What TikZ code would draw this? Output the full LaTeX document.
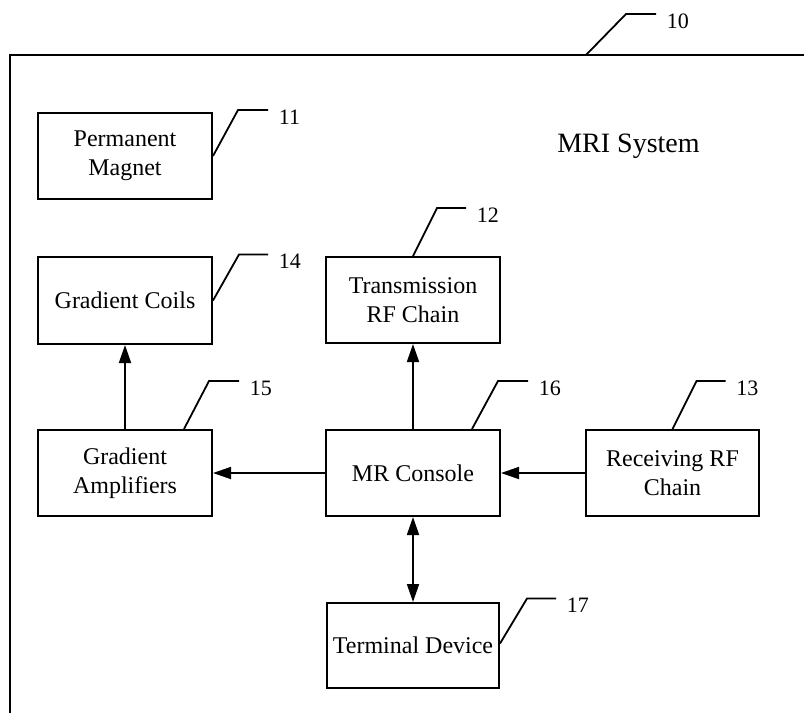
\documentclass[tikz,border=0pt]{standalone}
\usepackage{fontspec}
\setmainfont{Liberation Serif}
\usetikzlibrary{arrows.meta}
\begin{document}
\begin{tikzpicture}[x=1pt,y=-1pt,
  box/.style={draw, line width=2pt, minimum width=174pt, minimum height=86pt, align=center, inner sep=2pt,
    font=\fontsize{24}{29}\selectfont},
  conn/.style={line width=1.8pt, -{Triangle[length=18pt,width=12pt]}},
  leader/.style={line width=1.8pt},
  num/.style={anchor=west, inner sep=0pt, xshift=10pt, yshift=-7pt, font=\fontsize{22}{26}\selectfont}]
\useasboundingbox (0,0) rectangle (804,713);
% outer frame (open right and bottom)
\coordinate (fTL) at (10,55);
\coordinate (fTR) at (804,55);
\coordinate (fBL) at (10,713);
\draw[line width=2pt] (fBL) -- (fTL) -- (fTR);
\draw[leader] (586,55) -- ++(40,-41) -- ++(30,0) node[num] {10};
\node[anchor=base, font=\fontsize{28}{32}\selectfont] (title) at (628.5,152) {MRI System};
% boxes
\node[box] (pm) at (125,156) {Permanent\\Magnet};
\node[box, minimum height=87pt] (gc) at (125,300.5) {Gradient Coils};
\node[box] (tr) at (413,300) {Transmission\\RF Chain};
\node[box] (ga) at (125,473) {Gradient\\Amplifiers};
\node[box] (mr) at (413,473) {MR Console};
\node[box, minimum width=173pt] (rx) at (672.5,473) {Receiving RF\\Chain};
\node[box, minimum width=172pt, minimum height=85pt, inner sep=0pt] (td) at (413,645.5) {Terminal Device};
% connectors
\draw[conn] (ga) -- (gc);
\draw[conn] (mr) -- (tr);
\draw[conn] (mr) -- (ga);
\draw[conn] (rx) -- (mr);
\draw[conn, {Triangle[length=18pt,width=12pt]}-{Triangle[length=18pt,width=12pt]}] (mr) -- (td);
% leaders
\draw[leader] (pm.east) -- ++(25,-46) -- ++(30,0) node[num] {11};
\draw[leader] (gc.east) -- ++(26,-46) -- ++(29,0) node[num] {14};
\draw[leader] (tr.north) -- ++(24,-48) -- ++(29,0) node[num] {12};
\draw[leader] ([xshift=-29pt]ga.north east) -- ++(25,-48) -- ++(30,0) node[num] {15};
\draw[leader] ([xshift=-29pt]mr.north east) -- ++(26,-48) -- ++(30,0) node[num] {16};
\draw[leader] (rx.north) -- ++(24,-48) -- ++(29,0) node[num] {13};
\draw[leader] ([yshift=2pt]td.east) -- ++(27,-45) -- ++(29,0) node[num] {17};
\end{tikzpicture}
\end{document}
